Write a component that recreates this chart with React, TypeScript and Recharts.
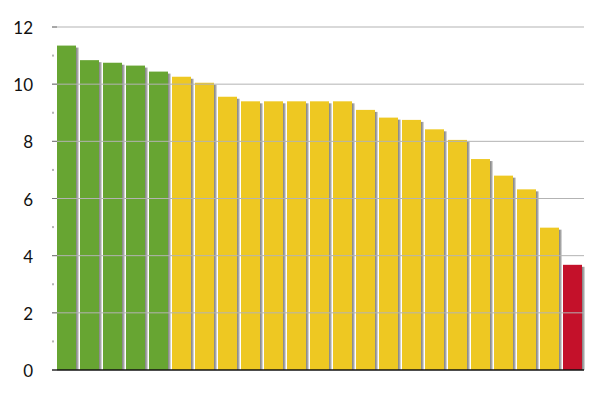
import React from "react";
import { Bar, BarChart, Cell, ReferenceLine, XAxis, YAxis } from "recharts";

const categories = ["1", "2", "3", "4", "5", "6", "7", "8", "9", "10", "11", "12", "13", "14", "15", "16", "17", "18", "19", "20", "21", "22", "23"];
const values = [11.35, 10.84, 10.75, 10.65, 10.44, 10.26, 10.05, 9.56, 9.4, 9.4, 9.4, 9.4, 9.4, 9.1, 8.83, 8.75, 8.42, 8.05, 7.38, 6.8, 6.32, 4.98, 3.68];
const groups = ["green", "green", "green", "green", "green", "yellow", "yellow", "yellow", "yellow", "yellow", "yellow", "yellow", "yellow", "yellow", "yellow", "yellow", "yellow", "yellow", "yellow", "yellow", "yellow", "yellow", "red"];
const yTicks = [0, 1, 2, 3, 4, 5, 6, 7, 8, 9, 10, 11, 12];
const gridValues = [2, 4, 6, 8, 10, 12];

const COLORS: Record<string, string> = { green: "#67a532", yellow: "#eec822", red: "#c4112a" };

const data = categories.map((name, i) => ({ name, value: values[i], group: groups[i] }));

// bar with a soft grey drop shadow on its right side
const ShadowBar = (props: any) => {
  const { x, y, width, height, fill } = props;
  if (!height || height <= 0) return null;
  return (
    <g>
      <rect x={x + width - 1} y={y + 2} width={4} height={height - 2} fill="url(#barShadow)" />
      <rect x={x} y={y} width={width} height={height} fill={fill} />
    </g>
  );
};

const YTick = (props: any) => {
  const { x, y, payload } = props;
  const v = payload.value;
  const axisX = x + 19;
  if (v % 2 !== 0) {
    return <rect x={axisX} y={y - 1} width={2} height={2} fill="#b5b5b5" />;
  }
  return (
    <g>
      <line x1={axisX} x2={axisX + 5} y1={y} y2={y} stroke="#777" strokeWidth={1} />
      <text x={x} y={y} dy={7} textAnchor="end" fontSize={17} fill="#111" fontFamily="Lato, 'Open Sans', sans-serif">
        {v}
      </text>
    </g>
  );
};

export default function App() {
  return (
    <div style={{ position: "absolute", left: 0, top: 0, width: 600, height: 394, background: "#fff" }}>
      <BarChart width={600} height={394} data={data} margin={{ top: 27, right: 16, bottom: 0, left: 0 }} barSize={19}>
        <defs>
          <linearGradient id="barShadow" x1="0" y1="0" x2="1" y2="0">
            <stop offset="0%" stopColor="#6e6e6e" />
            <stop offset="60%" stopColor="#a0a0a0" />
            <stop offset="100%" stopColor="#e6e6e6" />
          </linearGradient>
        </defs>
        {gridValues.map(v => (
          <ReferenceLine key={v} y={v} stroke="#b3b3b3" strokeWidth={1} />
        ))}
        <XAxis dataKey="name" tick={false} tickLine={false} axisLine={{ stroke: "#111", strokeWidth: 1.5 }} height={24} padding={{ left: 3, right: 0 }} />
        <YAxis
          domain={[0, 12]}
          ticks={yTicks}
          interval={0}
          width={52}
          axisLine={false}
          tickLine={false}
          tickSize={0}
          tickMargin={19}
          tick={<YTick />}
        />
        <Bar dataKey="value" isAnimationActive={false} shape={<ShadowBar />}>
          {data.map((d, i) => (
            <Cell key={`cell-${i}`} fill={COLORS[d.group]} />
          ))}
        </Bar>
      </BarChart>
    </div>
  );
}
